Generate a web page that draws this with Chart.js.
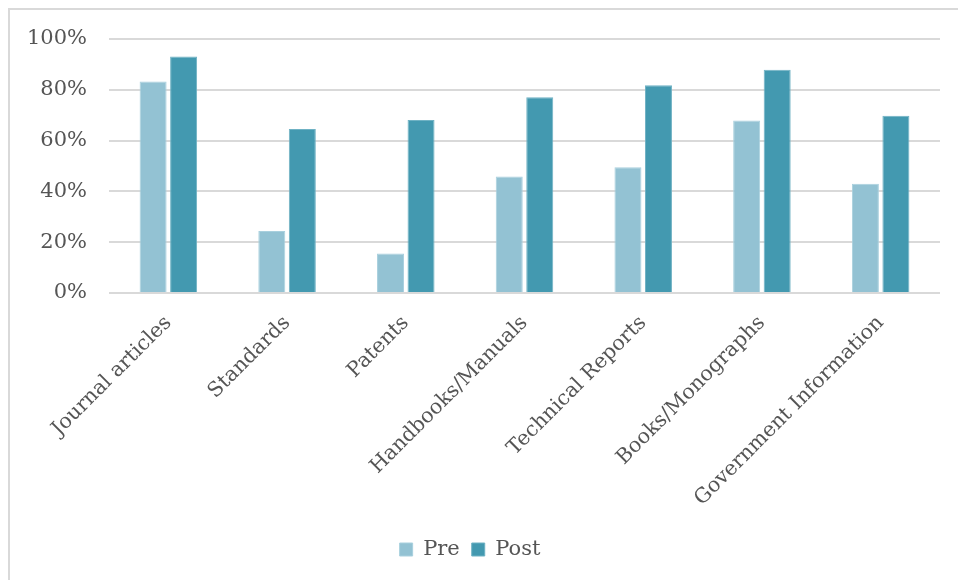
<!DOCTYPE html>
<html>
<head>
<meta charset="utf-8">
<script src="https://cdn.jsdelivr.net/npm/chart.js@4.4.0/dist/chart.umd.min.js"></script>
<style>
  html, body { margin: 0; padding: 0; background: #fff; }
  #wrap { position: relative; width: 958px; height: 580px; overflow: hidden; }
  #frame { position: absolute; left: 8px; top: 8px; width: 980px; height: 600px;
           border-left: 2px solid #d9d9d9; border-top: 2px solid #d9d9d9; }
  canvas { position: absolute; left: 0; top: 0; }
</style>
</head>
<body>
<div id="wrap">
  <div id="frame"></div>
  <canvas id="chart" width="958" height="580"></canvas>
</div>
<script>
// categories and values (percent)
const categories = ['Journal articles', 'Standards', 'Patents', 'Handbooks/Manuals',
                    'Technical Reports', 'Books/Monographs', 'Government Information'];
const preValues  = [83.3, 24.4, 15.6, 45.9, 49.5, 67.9, 43.0];
const postValues = [93.1, 64.6, 68.1, 77.1, 81.8, 87.9, 69.8];
const yTicks = [0, 20, 40, 60, 80, 100];

const FONT = "'DejaVu Serif', 'Liberation Serif', serif";
const TEXT = '#555555';

new Chart(document.getElementById('chart'), {
    type: 'bar',
    data: {
        labels: categories,
        datasets: [
            { label: 'Pre',  data: preValues,  backgroundColor: '#93c2d3', borderColor: '#a9d0de', borderWidth: 1 },
            { label: 'Post', data: postValues, backgroundColor: '#4399b0', borderColor: '#6fb2c4', borderWidth: 1 }
        ]
    },
    options: {
        responsive: false,
        animation: false,
        categoryPercentage: 0.514,
        barPercentage: 0.885,
        layout: { padding: { left: 0, right: 18, top: 39, bottom: 10 } },
        plugins: {
            tooltip: { enabled: false },
            legend: {
                position: 'bottom',
                labels: {
                    boxWidth: 13, boxHeight: 13, padding: 12,
                    color: TEXT, font: { family: FONT, size: 21 }
                }
            }
        },
        scales: {
            x: {
                grid: { display: false, drawTicks: false },
                border: { display: false },
                ticks: {
                    color: TEXT, font: { family: FONT, size: 20.5 },
                    maxRotation: 45, minRotation: 45, autoSkip: false, padding: 18
                },
                afterFit: (scale) => { scale.height = 234; }
            },
            y: {
                min: 0, max: 100,
                afterBuildTicks: (scale) => { scale.ticks = yTicks.map(v => ({ value: v })); },
                grid: { color: '#d9d9d9', lineWidth: 2, drawTicks: false },
                border: { display: false },
                ticks: {
                    color: TEXT, font: { family: FONT, size: 21 }, padding: 22,
                    callback: (v) => v + '%'
                },
                afterFit: (scale) => { scale.width = 109; }
            }
        }
    }
});
</script>
</body>
</html>
